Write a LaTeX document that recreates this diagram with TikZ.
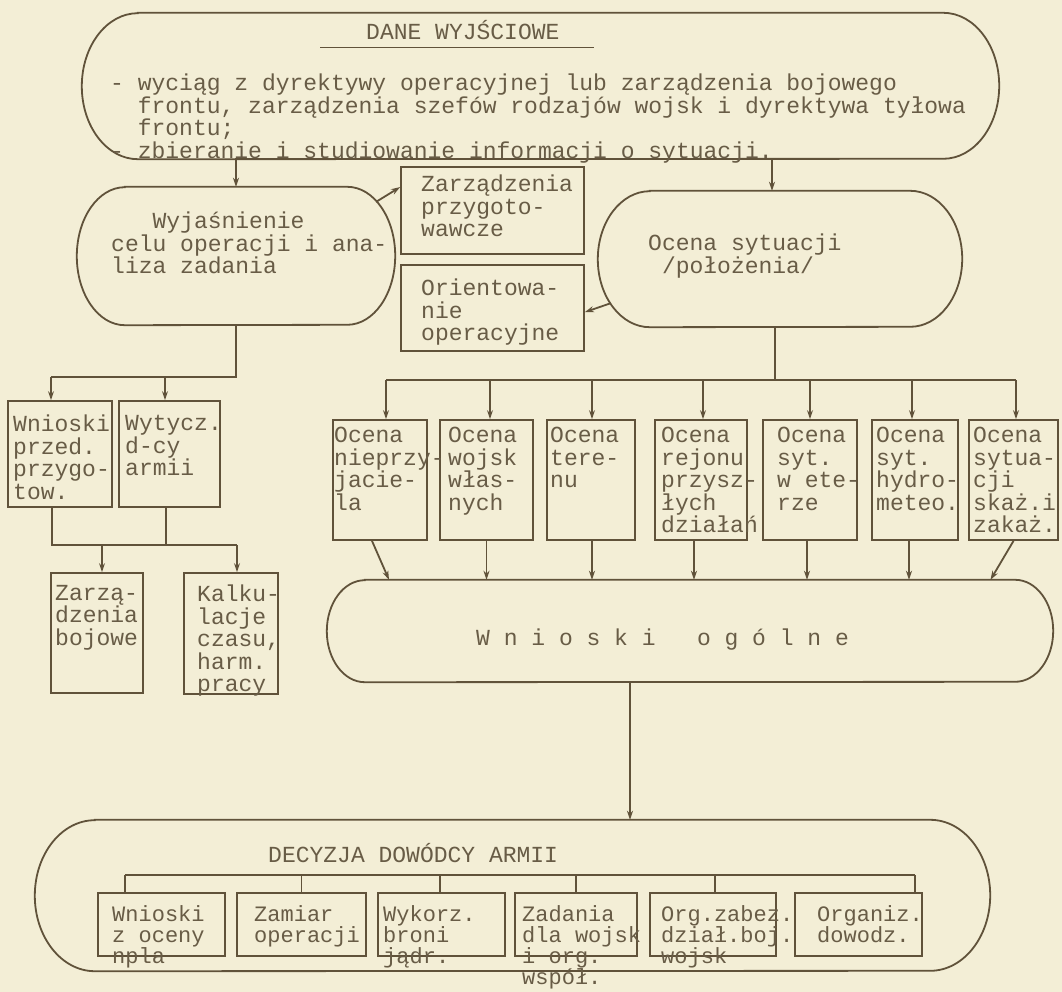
\documentclass[tikz,border=0pt]{standalone}
\usepackage{fontspec}
\setmainfont{Liberation Mono}
\usetikzlibrary{arrows.meta}
\definecolor{paper}{RGB}{243,238,214}
\definecolor{ink}{RGB}{96,82,58}
\definecolor{inktxt}{RGB}{104,92,70}
\tikzset{
  line/.style={draw=ink, line width=1.8pt},
  arr/.style={line, -{Stealth[length=9pt,width=6pt]}},
  box/.style={line, inner sep=0pt, rectangle},
  blob/.style={inner sep=0pt, rectangle},
  txt/.style={font=\fontsize{23}{22.5}\selectfont, text=inktxt, inner sep=0pt, align=left, anchor=north west},
  txtb/.style={txt, font=\fontsize{22}{21}\selectfont},
  ttl/.style={font=\fontsize{23}{22.5}\selectfont, text=inktxt, inner sep=0pt, anchor=base west},
}
\newcommand\stadoutline[3]{\draw[line] ([xshift=#2]#1.north west) -- ([xshift=-#2]#1.north east) arc[start angle=90,end angle=-90,x radius=#2,y radius=#3] -- ([xshift=#2]#1.south west) arc[start angle=270,end angle=90,x radius=#2,y radius=#3] -- cycle;}
\begin{document}
\begin{tikzpicture}[x=1pt,y=-1pt]
\fill[paper] (0,0) rectangle (1062,992);
\useasboundingbox (0,0) rectangle (1062,992);

% stadium nodes
\node[blob, minimum width=917pt, minimum height=146pt] (dane) at (540.5,86) {};
\node[blob, minimum width=318pt, minimum height=138pt] (wyj) at (236,256) {};
\node[blob, minimum width=364pt, minimum height=136pt] (ocs) at (780,259) {};
\node[blob, minimum width=726pt, minimum height=102pt] (wog) at (690,631) {};
\node[blob, minimum width=955pt, minimum height=151pt] (dec) at (512.5,895.5) {};
\stadoutline{dane}{56pt}{73pt}
\stadoutline{wyj}{48pt}{69pt}
\stadoutline{ocs}{52pt}{68pt}
\stadoutline{wog}{38pt}{51pt}
\stadoutline{dec}{60pt}{75.5pt}

% rectangular boxes
\node[box, minimum width=183pt, minimum height=87pt] (zarz) at (492.5,210.5) {};
\node[box, minimum width=183pt, minimum height=86pt] (orient) at (492.5,308) {};
\node[box, minimum width=104pt, minimum height=106pt] (wprz) at (60,454) {};
\node[box, minimum width=101pt, minimum height=106pt] (wyt) at (169.5,454) {};
\node[box, minimum width=92pt, minimum height=120pt] (zbo) at (97,633) {};
\node[box, minimum width=94pt, minimum height=121pt] (kalk) at (231,633.5) {};
\node[box, minimum width=94pt, minimum height=120pt] (oc1) at (380,480) {};
\node[box, minimum width=93pt, minimum height=120pt] (oc2) at (486.5,480) {};
\node[box, minimum width=88pt, minimum height=120pt] (oc3) at (591,480) {};
\node[box, minimum width=92pt, minimum height=120pt] (oc4) at (701,480) {};
\node[box, minimum width=94pt, minimum height=120pt] (oc5) at (810,480) {};
\node[box, minimum width=86pt, minimum height=120pt] (oc6) at (915,480) {};
\node[box, minimum width=89pt, minimum height=120pt] (oc7) at (1013.5,480) {};
\node[box, minimum width=127pt, minimum height=63pt] (d1) at (161.5,924.5) {};
\node[box, minimum width=129pt, minimum height=63pt] (d2) at (301.5,924.5) {};
\node[box, minimum width=127pt, minimum height=63pt] (d3) at (441.5,924.5) {};
\node[box, minimum width=122pt, minimum height=63pt] (d4) at (576,924.5) {};
\node[box, minimum width=126pt, minimum height=63pt] (d5) at (713,924.5) {};
\node[box, minimum width=127pt, minimum height=63pt] (d6) at (858.5,924.5) {};

% texts
\node[ttl] (danettl) at (366,40) {DANE WYJŚCIOWE};
\draw[line, line width=1.4pt] ([xshift=-46pt,yshift=-7pt]danettl.south west) -- ([xshift=34pt,yshift=-7pt]danettl.south east);
\node[txt] (danetxt) at (110,74) {- wyciąg z dyrektywy operacyjnej lub zarządzenia bojowego\\
\phantom{- }frontu, zarządzenia szefów rodzajów wojsk i dyrektywa tyłowa\\
\phantom{- }frontu;\\
- zbieranie i studiowanie informacji o sytuacji.};
\node[txt] (wyjtxt) at (111,212) {\phantom{ccc}Wyjaśnienie\\celu operacji i ana-\\liza zadania};
\node[txt] (zarztxt) at (421,175) {Zarządzenia\\przygoto-\\wawcze};
\node[txt] (orienttxt) at (421,279) {Orientowa-\\nie\\operacyjne};
\node[txt] (ocstxt) at (648,234) {Ocena sytuacji\\\phantom{n}/położenia/};
\node[txt] (wprztxt) at (13,415) {Wnioski\\przed.\\przygo-\\tow.};
\node[txt] (wyttxt) at (125,415) {Wytycz.\\d-cy\\armii};
\node[txt] (zbotxt) at (55,585) {Zarzą-\\dzenia\\bojowe};
\node[txt] (kalktxt) at (197,585) {Kalku-\\lacje\\czasu,\\harm.\\pracy};
\node[txt] (oc1txt) at (334,427) {Ocena\\nieprzy-\\jacie-\\la};
\node[txt] (oc2txt) at (448,427) {Ocena\\wojsk\\włas-\\nych};
\node[txt] (oc3txt) at (550,427) {Ocena\\tere-\\nu};
\node[txt] (oc4txt) at (661,427) {Ocena\\rejonu\\przysz-\\łych\\działań};
\node[txt] (oc5txt) at (777,427) {Ocena\\syt.\\w ete-\\rze};
\node[txt] (oc6txt) at (876,427) {Ocena\\syt.\\hydro-\\meteo.};
\node[txt] (oc7txt) at (973,427) {Ocena\\sytua-\\cji\\skaż.i\\zakaż.};
\node[ttl] (wogtxt) at (476,645) {W~n~i~o~s~k~i~~~o~g~ó~l~n~e};
\node[ttl] (dectxt) at (268,862) {DECYZJA DOWÓDCY ARMII};
\node[txtb] (d1txt) at (112,905) {Wnioski\\z oceny\\npla};
\node[txtb] (d2txt) at (254,905) {Zamiar\\operacji};
\node[txtb] (d3txt) at (383,905) {Wykorz.\\broni\\jądr.};
\node[txtb] (d4txt) at (522,905) {Zadania\\dla wojsk\\i org.\\współ.};
\node[txtb] (d5txt) at (661,905) {Org.zabez.\\dział.boj.\\wojsk};
\node[txtb] (d6txt) at (817,905) {Organiz.\\dowodz.};

% connectors
\draw[arr] (dane.south -| wyj.north) -- (wyj.north);
\draw[arr] ([xshift=-8pt]ocs.north |- dane.south) -- ([xshift=-8pt]ocs.north);
\draw[arr] ([xshift=-19pt,yshift=-15pt]wyj.north east) -- ([yshift=-21pt]zarz.north west);
\draw[arr] ([xshift=13pt,yshift=24pt]ocs.south west) -- ([yshift=-48pt]orient.north east);

\coordinate (lbus) at (0,377);
\coordinate (lbus2) at (0,545);
\coordinate (rbus) at (0,380);
\coordinate (dbus) at (0,875);

\draw[line] (wyj.south) -- (wyj.south |- lbus) -- ([xshift=-9pt]wprz.north |- lbus);
\draw[arr] ([xshift=-9pt]wprz.north |- lbus) -- ([xshift=-9pt]wprz.north);
\draw[arr] ([xshift=-4.5pt]wyt.north |- lbus) -- ([xshift=-4.5pt]wyt.north);
\draw[line] ([xshift=-8pt]wprz.south) -- ([xshift=-8pt]wprz.south |- lbus2) -- ([xshift=6pt]kalk.north |- lbus2);
\draw[line] ([xshift=-3.5pt]wyt.south) -- ([xshift=-3.5pt]wyt.south |- lbus2);
\draw[arr] ([xshift=5pt]zbo.north |- lbus2) -- ([xshift=5pt]zbo.north);
\draw[arr] ([xshift=6pt]kalk.north |- lbus2) -- ([xshift=6pt]kalk.north);

\draw[line] ([xshift=-5pt]ocs.south) -- ([xshift=-5pt]ocs.south |- rbus);
\draw[line] ([xshift=6pt]oc1.north |- rbus) -- ([xshift=2.5pt]oc7.north |- rbus);
\draw[arr] ([xshift=6pt]oc1.north |- rbus) -- ([xshift=6pt]oc1.north);
\draw[arr] ([xshift=3.5pt]oc2.north |- rbus) -- ([xshift=3.5pt]oc2.north);
\draw[arr] ([xshift=1pt]oc3.north |- rbus) -- ([xshift=1pt]oc3.north);
\draw[arr] ([xshift=2pt]oc4.north |- rbus) -- ([xshift=2pt]oc4.north);
\draw[arr] (oc5.north |- rbus) -- (oc5.north);
\draw[arr] ([xshift=-3pt]oc6.north |- rbus) -- ([xshift=-3pt]oc6.north);
\draw[arr] ([xshift=2.5pt]oc7.north |- rbus) -- ([xshift=2.5pt]oc7.north);

\draw[arr] ([xshift=-8pt]oc1.south) -- ([xshift=9pt]oc1.south |- wog.north);
\draw[arr] (oc2.south) -- (oc2.south |- wog.north);
\draw[arr] ([xshift=1pt]oc3.south) -- ([xshift=1pt]oc3.south |- wog.north);
\draw[arr] ([xshift=-7pt]oc4.south) -- ([xshift=-7pt]oc4.south |- wog.north);
\draw[arr] ([xshift=-3pt]oc5.south) -- ([xshift=-3pt]oc5.south |- wog.north);
\draw[arr] ([xshift=-6pt]oc6.south) -- ([xshift=-6pt]oc6.south |- wog.north);
\draw[arr] (oc7.south) -- ([xshift=-23pt]oc7.south |- wog.north);

\draw[arr] ([xshift=-60pt]wog.south) -- ([xshift=-60pt]wog.south |- dec.north);

\draw[line] ([xshift=-36.5pt]d1.north |- dbus) -- ([xshift=56.5pt]d6.north |- dbus);
\draw[line] ([xshift=-36.5pt]d1.north |- dbus) -- ([xshift=-36.5pt]d1.north);
\draw[line] (d2.north |- dbus) -- (d2.north);
\draw[line] ([xshift=-1.5pt]d3.north |- dbus) -- ([xshift=-1.5pt]d3.north);
\draw[line] (d4.north |- dbus) -- (d4.north);
\draw[line] ([xshift=2pt]d5.north |- dbus) -- ([xshift=2pt]d5.north);
\draw[line] ([xshift=56.5pt]d6.north |- dbus) -- ([xshift=56.5pt]d6.north);
\end{tikzpicture}
\end{document}
